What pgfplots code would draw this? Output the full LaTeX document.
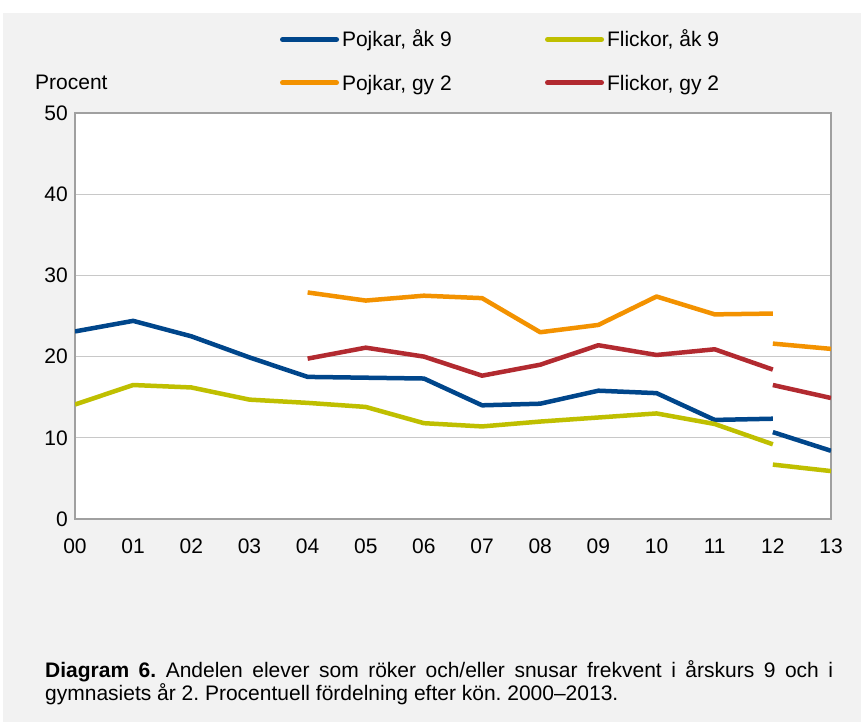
\documentclass[border=0pt]{standalone}
\usepackage{pgfplots}
\pgfplotsset{compat=1.18}
\usepackage{fontspec}
\setmainfont{Liberation Sans}
\definecolor{bgc}{HTML}{F2F2F2}
\definecolor{cblue}{HTML}{00468B}
\definecolor{cyel}{HTML}{BFBF00}
\definecolor{corange}{HTML}{F39200}
\definecolor{cred}{HTML}{B22A30}
\definecolor{gridc}{HTML}{C8C8C8}
\definecolor{framec}{HTML}{A0A0A0}
\newcommand{\lstrut}{\rule[-6bp]{0pt}{26bp}}
\frenchspacing
\begin{document}
\fontsize{21bp}{25bp}\selectfont
\begin{tikzpicture}
\useasboundingbox (0,0) rectangle (861bp,722bp);
\fill[white] (0,0) rectangle (861bp,722bp);
\fill[bgc] (3bp,0) rectangle (861bp,709bp);
\begin{axis}[
  at={(75bp,203bp)}, anchor=south west,
  scale only axis, width=756bp, height=406bp,
  xmin=0, xmax=13, ymin=0, ymax=50,
  xtick={0,1,2,3,4,5,6,7,8,9,10,11,12,13},
  xticklabels={00,01,02,03,04,05,06,07,08,09,10,11,12,13},
  ytick={0,10,20,30,40,50}, yticklabels={0,10,20,30,40,50},
  major tick length=0pt,
  ymajorgrids, grid style={gridc, line width=1bp},
  axis background/.style={fill=white},
  axis line style={framec, line width=1.5bp},
  tick label style={font=\fontsize{21bp}{25bp}\selectfont},
  xticklabel style={yshift=-13bp},
  ylabel={Procent},
  ylabel style={rotate=-90, at={(axis description cs:0,1)}, anchor=base west, xshift=-40bp, yshift=23bp, inner sep=0pt, font=\fontsize{21bp}{25bp}\selectfont},
  legend columns=2,
  legend cell align=left,
  legend style={draw=none, fill=none, at={(axis description cs:0.2712,1.212)}, anchor=north west,
    inner sep=0pt, outer sep=0pt, row sep=20bp,
    nodes={inner sep=0pt, font=\fontsize{21bp}{25bp}\selectfont},
    /tikz/every odd column/.append style={column sep=3bp},
    /tikz/every even column/.append style={column sep=0bp}},
  legend image code/.code={\draw[#1, line width=5bp, line cap=round] (0bp,-1bp) -- (54bp,-1bp);},
  every axis plot/.append style={line width=4.5bp, line join=round},
]
\addplot[cblue] coordinates {(0,23.1)(1,24.4)(2,22.5)(3,19.9)(4,17.5)(5,17.4)(6,17.3)(7,14.0)(8,14.2)(9,15.8)(10,15.5)(11,12.2)(12,12.35)};
\addlegendentry{\makebox[203bp][l]{Pojkar, åk 9\lstrut}}
\addplot[cyel] coordinates {(0,14.1)(1,16.5)(2,16.2)(3,14.7)(4,14.3)(5,13.8)(6,11.8)(7,11.4)(8,12.0)(9,12.5)(10,13.0)(11,11.7)(12,9.2)};
\addlegendentry{Flickor, åk 9\lstrut}
\addplot[corange] coordinates {(4,27.9)(5,26.9)(6,27.5)(7,27.2)(8,23.0)(9,23.9)(10,27.4)(11,25.2)(12,25.3)};
\addlegendentry{\makebox[203bp][l]{Pojkar, gy 2\lstrut}}
\addplot[cred] coordinates {(4,19.75)(5,21.1)(6,20.0)(7,17.65)(8,19.0)(9,21.4)(10,20.2)(11,20.9)(12,18.4)};
\addlegendentry{Flickor, gy 2\lstrut}
\addplot[cblue, forget plot] coordinates {(12,10.7)(13,8.4)};
\addplot[cyel, forget plot] coordinates {(12,6.7)(13,5.9)};
\addplot[corange, forget plot] coordinates {(12,21.6)(13,20.95)};
\addplot[cred, forget plot] coordinates {(12,16.5)(13,14.9)};
\end{axis}
\node[anchor=base west, inner sep=0pt] at (45bp,44bp) {\makebox[788bp][s]{\textbf{Diagram 6.} Andelen elever som röker och/eller snusar frekvent i årskurs 9 och i}};
\node[anchor=base west, inner sep=0pt] at (45bp,22bp) {gymnasiets år 2. Procentuell fördelning efter kön. 2000–2013.};
\end{tikzpicture}
\end{document}
